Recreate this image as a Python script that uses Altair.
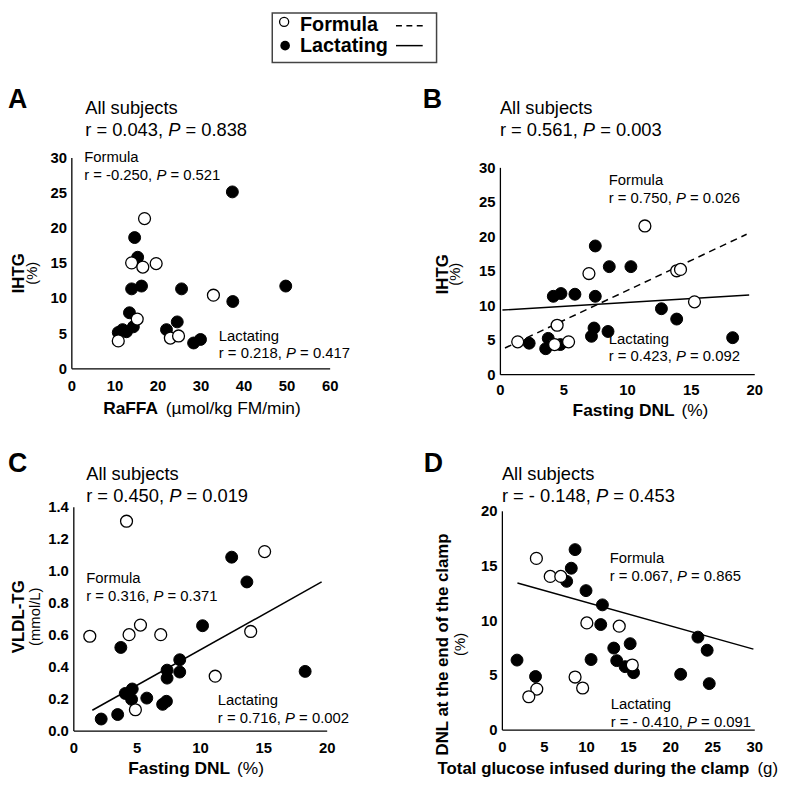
import altair as alt
import pandas as pd

# ---------------- values ----------------
# Panel A: IHTG (%) vs RaFFA
A_FORMULA_X = [17.0, 14.0, 16.6, 19.7, 15.3, 10.9, 23.0, 24.9, 33.0]
A_FORMULA_Y = [21.3, 15.0, 14.4, 14.9, 7.0, 3.9, 4.3, 4.6, 10.4]
A_LACT_X = [37.4, 14.7, 15.4, 14.0, 16.3, 25.6, 49.8, 37.5, 13.5, 14.4, 12.8, 10.9, 22.1, 24.6, 28.4, 30.0, 11.9]
A_LACT_Y = [25.1, 18.6, 15.8, 11.3, 11.7, 11.3, 11.7, 9.5, 7.9, 5.9, 5.2, 5.1, 5.5, 6.6, 3.6, 4.1, 5.5]

# Panel B: IHTG (%) vs fasting DNL (%)
B_FORMULA_X = [11.4, 7.0, 13.9, 14.2, 15.3, 4.5, 1.4, 4.3, 5.4]
B_FORMULA_Y = [21.5, 14.6, 15.0, 15.2, 10.5, 7.1, 4.7, 4.3, 4.7]
B_LACT_X = [7.5, 8.6, 10.3, 4.2, 4.8, 5.9, 7.5, 12.7, 13.9, 7.4, 7.2, 8.5, 2.3, 3.8, 3.6, 4.75, 18.3]
B_LACT_Y = [18.6, 15.6, 15.6, 11.3, 11.7, 11.6, 11.3, 9.5, 8.0, 6.7, 5.5, 6.2, 4.5, 5.2, 3.7, 4.3, 5.3]
B_FORMULA_FIT_X = [0.4, 19.4]
B_FORMULA_FIT_Y = [3.8, 20.3]
B_LACT_FIT_X = [0.2, 19.6]
B_LACT_FIT_Y = [9.3, 11.5]

# Panel C: VLDL-TG (mmol/L) vs fasting DNL (%)
C_FORMULA_X = [4.2, 15.1, 1.3, 4.4, 5.3, 6.9, 14.0, 11.2, 4.9]
C_FORMULA_Y = [1.31, 1.12, 0.59, 0.60, 0.66, 0.60, 0.62, 0.34, 0.13]
C_LACT_X = [12.5, 13.7, 10.2, 3.75, 18.3, 8.4, 8.4, 7.4, 7.4, 4.65, 4.1, 4.6, 5.8, 7.05, 7.35, 3.5, 2.2]
C_LACT_Y = [1.085, 0.93, 0.656, 0.52, 0.37, 0.443, 0.366, 0.378, 0.328, 0.26, 0.232, 0.195, 0.203, 0.164, 0.183, 0.10, 0.072]
C_LACT_FIT_X = [1.5, 19.6]
C_LACT_FIT_Y = [0.127, 0.93]

# Panel D: DNL at end of clamp (%) vs total glucose infused (g)
D_FORMULA_X = [4.1, 5.75, 7.0, 10.1, 13.95, 15.5, 8.7, 9.6, 4.15, 3.2]
D_FORMULA_Y = [15.65, 14.0, 14.0, 9.75, 9.45, 5.9, 4.8, 3.8, 3.7, 3.0]
D_LACT_X = [8.7, 8.25, 7.7, 10.0, 11.95, 11.75, 23.3, 24.4, 15.25, 13.3, 10.6, 13.65, 14.65, 15.65, 21.25, 24.65, 1.8, 4.0]
D_LACT_Y = [16.45, 14.75, 13.55, 12.7, 11.4, 9.6, 8.45, 7.25, 7.85, 7.45, 6.4, 6.3, 5.75, 5.2, 5.05, 4.2, 6.35, 4.85]
D_LACT_FIT_X = [1.85, 29.9]
D_LACT_FIT_Y = [13.4, 7.35]

# Axis tick values
A_X_TICKS = [0, 10, 20, 30, 40, 50, 60]
A_Y_TICKS = [0, 5, 10, 15, 20, 25, 30]
B_X_TICKS = [0, 5, 10, 15, 20]
B_Y_TICKS = [0, 5, 10, 15, 20, 25, 30]
C_X_TICKS = [0, 5, 10, 15, 20]
C_Y_TICKS = [0.0, 0.2, 0.4, 0.6, 0.8, 1.0, 1.2, 1.4]
D_X_TICKS = [0, 5, 10, 15, 20, 25, 30]
D_Y_TICKS = [0, 5, 10, 15, 20]

# Texts
PANEL_LETTERS = ["A", "B", "C", "D"]
ALL_STATS = [("0.043", "0.838"), ("0.561", "0.003"), ("0.450", "0.019"), ("- 0.148", "0.453")]
FORMULA_STATS = [("-0.250", "0.521"), ("0.750", "0.026"), ("0.316", "0.371"), ("0.067", "0.865")]
LACT_STATS = [("0.218", "0.417"), ("0.423", "0.092"), ("0.716", "0.002"), ("- 0.410", "0.091")]
X_TITLES = [("RaFFA", " (\u00b5mol/kg FM/min)"), ("Fasting DNL", " (%)"),
            ("Fasting DNL", " (%)"), ("Total glucose infused during the clamp", " (g)")]
Y_TITLES = [("IHTG", "(%)"), ("IHTG", "(%)"), ("VLDL-TG", "(mmol/L)"),
            ("DNL at the end of the clamp", "(%)")]
LEGEND_LABELS = ["Formula", "Lactating"]

# ---------------- layout ----------------
FONT = "Liberation Sans"
W, H = 780, 775

REG = {' ': 278, '!': 278, '%': 889, '(': 333, ')': 333, ',': 278, '-': 333, '.': 278, '/': 278, '=': 584,
       'A': 667, 'B': 667, 'C': 722, 'D': 722, 'E': 667, 'F': 611, 'G': 778, 'H': 722, 'I': 278, 'L': 556,
       'M': 833, 'N': 722, 'P': 667, 'R': 722, 'T': 611, 'V': 667,
       'a': 556, 'b': 556, 'c': 500, 'd': 556, 'e': 556, 'f': 278, 'g': 556, 'h': 556, 'i': 222, 'j': 222,
       'k': 500, 'l': 222, 'm': 833, 'n': 556, 'o': 556, 'p': 556, 'r': 333, 's': 500, 't': 278, 'u': 556,
       '\u00b5': 576}
BOLD = {' ': 278, '%': 889, '(': 333, ')': 333, ',': 278, '-': 333, '.': 278, '/': 278, '=': 584,
        'A': 722, 'B': 722, 'C': 722, 'D': 722, 'F': 611, 'G': 778, 'H': 722, 'I': 278, 'L': 611,
        'N': 722, 'R': 722, 'T': 611, 'V': 667,
        'a': 556, 'c': 556, 'd': 611, 'e': 556, 'f': 333, 'g': 611, 'h': 611, 'i': 278, 'l': 278,
        'm': 889, 'n': 611, 'o': 611, 'p': 611, 'r': 389, 's': 556, 't': 333, 'u': 611}


def text_width(t, style, fs):
    tab = BOLD if style == "b" else REG
    return sum(tab.get(c, 556) for c in t) * fs / 1000.0


rows = []


def add_runs(runs, x, y, fs, anchor="left", gap=1.0):
    total = sum(text_width(t, s, fs) for t, s in runs) + gap * (len(runs) - 1)
    if anchor == "center":
        x = x - total / 2.0
    cum = 0.0
    for t, s in runs:
        lead = len(t) - len(t.lstrip(" "))
        body = t.strip(" ")
        if body:
            rows.append(dict(px=x + cum + text_width(" " * lead, s, fs), py=y, t=body, fs=fs, st=s))
        cum += text_width(t, s, fs) + gap


def stat_runs(r, p):
    return [("r = " + r + ", ", "n"), ("P", "i"), (" = " + p, "n")]


# panel geometry (pixels inside the plot area)
PANELS = [
    dict(xr=[64, 325], yr=[360, 147], letter=(0, 97), title=(78, 103), form=(77, 152), lact=(213, 332),
         xtitle=(196, 406), ytitle=(16, 29, 264), xpad=10),
    dict(xr=[497, 754], yr=[366, 157], letter=(419, 97), title=(497, 103), form=(607, 175), lact=(607, 335),
         xtitle=(639, 408), ytitle=(445, 457, 265), xpad=8),
    dict(xr=[66, 322], yr=[726, 500], letter=(0, 465), title=(79, 473), form=(79, 577), lact=(212, 700),
         xtitle=(190, 770), ytitle=(16, 32, 611), xpad=10),
    dict(xr=[499, 754], yr=[725, 504], letter=(420, 465), title=(499, 473), form=(608, 557), lact=(609, 704),
         xtitle=(606, 770), ytitle=(445, 462, 639), xpad=10),
]

rot_rows = []
for i, g in enumerate(PANELS):
    lx, ly = g["letter"]
    add_runs([(PANEL_LETTERS[i], "b")], lx, ly, 27)
    tx, ty = g["title"]
    add_runs([("All subjects", "n")], tx, ty, 18.5)
    add_runs(stat_runs(*ALL_STATS[i]), tx, ty + 22, 18.5, gap=0.0)
    fx, fy = g["form"]
    add_runs([("Formula", "n")], fx, fy, 15)
    add_runs(stat_runs(*FORMULA_STATS[i]), fx, fy + 18, 15, gap=0.0)
    sx, sy = g["lact"]
    add_runs([("Lactating", "n")], sx, sy, 15)
    add_runs(stat_runs(*LACT_STATS[i]), sx, sy + 18, 15, gap=0.0)
    xt_x, xt_y = g["xtitle"]
    fsx = 17 if i == 3 else 17.5
    add_runs([(X_TITLES[i][0], "b"), (X_TITLES[i][1], "n")], xt_x, xt_y, fsx, anchor="center", gap=2.0)
    b1, b2, cy = g["ytitle"]
    rot_rows.append(dict(px=b1, py=cy, t=Y_TITLES[i][0], fs=17, st="b"))
    rot_rows.append(dict(px=b2, py=cy, t=Y_TITLES[i][1], fs=15, st="n"))

# legend labels
add_runs([(LEGEND_LABELS[0], "b")], 295, 19, 20)
add_runs([(LEGEND_LABELS[1], "b")], 295, 40, 20)

AX = dict(grid=False, ticks=False, tickSize=0, domainColor="black", domainWidth=1.3, labelColor="black",
          labelFont=FONT, labelFontSize=15, labelFontWeight="bold", labelOverlap=False,
          labelFlush=False, labelBound=False, title=None)

PT_SIZE = 145


def panel(fx, fy, lx, ly, xdom, ydom, g, xt, yt, yfmt, fits):
    xr, yr = g["xr"], g["yr"]
    pts = pd.DataFrame({"x": list(lx) + list(fx), "y": list(ly) + list(fy),
                        "group": ["Lactating"] * len(lx) + ["Formula"] * len(fx)})
    xs = alt.Scale(domain=xdom, range=xr, nice=False, zero=False)
    ys = alt.Scale(domain=ydom, range=yr, nice=False, zero=False)
    xa = alt.Axis(orient="bottom", offset=yr[0] - H, values=xt, format="d", labelPadding=g["xpad"], **AX)
    ya = alt.Axis(orient="left", offset=-xr[0], values=yt, format=yfmt, labelPadding=5, **AX)
    base = alt.Chart(pts)
    filled = base.transform_filter(alt.datum.group == "Lactating").mark_point(
        shape="circle", filled=True, fill="black", stroke="black", strokeWidth=1, size=PT_SIZE, opacity=1
    ).encode(x=alt.X("x:Q", scale=xs, axis=xa), y=alt.Y("y:Q", scale=ys, axis=ya))
    layers = [filled]
    for (fxs, fys, dash) in fits:
        ldf = pd.DataFrame({"x": fxs, "y": fys})
        kw = dict(color="black", strokeWidth=1.5)
        if dash:
            kw["strokeDash"] = [7, 5]
        layers.append(alt.Chart(ldf).mark_line(**kw).encode(x="x:Q", y="y:Q"))
    opened = base.transform_filter(alt.datum.group == "Formula").mark_point(
        shape="circle", filled=True, fill="white", stroke="black", strokeWidth=1.3, size=PT_SIZE, opacity=1
    ).encode(x="x:Q", y="y:Q")
    layers.append(opened)
    return alt.layer(*layers)


pA = panel(A_FORMULA_X, A_FORMULA_Y, A_LACT_X, A_LACT_Y, [0, 60], [0, 30], PANELS[0],
           A_X_TICKS, A_Y_TICKS, "d", [])
pB = panel(B_FORMULA_X, B_FORMULA_Y, B_LACT_X, B_LACT_Y, [0, 20], [0, 30], PANELS[1],
           B_X_TICKS, B_Y_TICKS, "d",
           [(B_LACT_FIT_X, B_LACT_FIT_Y, False), (B_FORMULA_FIT_X, B_FORMULA_FIT_Y, True)])
pC = panel(C_FORMULA_X, C_FORMULA_Y, C_LACT_X, C_LACT_Y, [0, 20], [0, 1.4], PANELS[2],
           C_X_TICKS, C_Y_TICKS, ".1f", [(C_LACT_FIT_X, C_LACT_FIT_Y, False)])
pD = panel(D_FORMULA_X, D_FORMULA_Y, D_LACT_X, D_LACT_Y, [0, 30], [0, 20], PANELS[3],
           D_X_TICKS, D_Y_TICKS, "d", [(D_LACT_FIT_X, D_LACT_FIT_Y, False)])

# ---------------- text layers ----------------
tdf = pd.DataFrame(rows)
text_layers = []
STYLE = {"n": dict(fontWeight="normal", fontStyle="normal"),
         "i": dict(fontWeight="normal", fontStyle="italic"),
         "b": dict(fontWeight="bold", fontStyle="normal")}
for st, sub in tdf.groupby("st"):
    text_layers.append(
        alt.Chart(sub.reset_index(drop=True)).mark_text(
            align="left", baseline="alphabetic", font=FONT, color="black", **STYLE[st]
        ).encode(x=alt.X("px:Q", scale=None, axis=None), y=alt.Y("py:Q", scale=None, axis=None),
                 text="t:N", size=alt.Size("fs:Q", scale=None, legend=None))
    )
rdf = pd.DataFrame(rot_rows)
for st, sub in rdf.groupby("st"):
    text_layers.append(
        alt.Chart(sub.reset_index(drop=True)).mark_text(
            align="center", baseline="alphabetic", angle=270, font=FONT, color="black", **STYLE[st]
        ).encode(x=alt.X("px:Q", scale=None, axis=None), y=alt.Y("py:Q", scale=None, axis=None),
                 text="t:N", size=alt.Size("fs:Q", scale=None, legend=None))
    )

# ---------------- legend box ----------------
one = pd.DataFrame({"k": [0]})
legend_layers = [
    alt.Chart(one).mark_rect(fill="white", fillOpacity=0, stroke="#444444", strokeWidth=1.5).encode(
        x=alt.value(267), x2=alt.value(433), y=alt.value(1), y2=alt.value(51)),
    alt.Chart(one).mark_point(shape="circle", filled=True, fill="white", stroke="black", strokeWidth=1.3,
                              size=85, opacity=1).encode(x=alt.value(279), y=alt.value(10)),
    alt.Chart(one).mark_point(shape="circle", filled=True, fill="black", size=95, opacity=1).encode(
        x=alt.value(280), y=alt.value(34)),
    alt.Chart(one).mark_rule(color="black", strokeWidth=1.5, strokeDash=[6, 4.5]).encode(
        x=alt.value(392), x2=alt.value(419), y=alt.value(14)),
    alt.Chart(one).mark_rule(color="black", strokeWidth=1.5).encode(
        x=alt.value(392), x2=alt.value(419), y=alt.value(34)),
]

chart = alt.layer(pA, pB, pC, pD, *text_layers, *legend_layers).resolve_scale(
    x="independent", y="independent"
).properties(
    width=W, height=H, autosize=alt.AutoSizeParams(type="none"), padding=0
).configure_view(stroke=None)

chart.save("out.html", embed_options={"renderer": "svg", "actions": False})
